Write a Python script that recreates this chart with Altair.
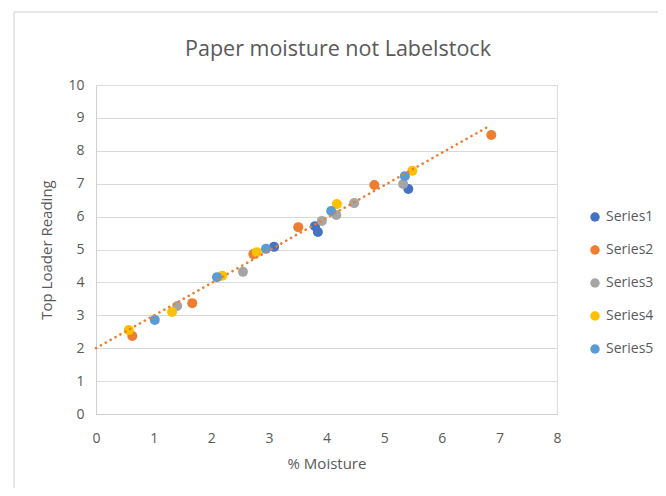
import altair as alt
import pandas as pd

series_names = ["Series1", "Series2", "Series3", "Series4", "Series5"]
series_colors = ["#4472C4", "#ED7D31", "#A5A5A5", "#FFC000", "#5B9BD5"]

s1_x = [3.09, 3.80, 3.85, 5.42]
s1_y = [5.08, 5.71, 5.53, 6.84]
s2_x = [0.63, 1.67, 2.73, 3.51, 4.83, 6.86]
s2_y = [2.37, 3.37, 4.86, 5.68, 6.96, 8.48]
s3_x = [1.41, 2.55, 3.92, 4.17, 4.48, 5.33]
s3_y = [3.28, 4.32, 5.87, 6.05, 6.41, 6.99]
s4_x = [0.57, 1.32, 2.19, 2.79, 4.18, 5.49]
s4_y = [2.55, 3.10, 4.20, 4.92, 6.38, 7.39]
s5_x = [1.02, 2.10, 2.95, 4.08, 5.36]
s5_y = [2.86, 4.16, 5.02, 6.17, 7.23]

trend_x = [0.0, 6.79]
trend_y = [2.0, 8.72]

x_ticks = [0, 1, 2, 3, 4, 5, 6, 7, 8]
y_ticks = [0, 1, 2, 3, 4, 5, 6, 7, 8, 9, 10]

chart_title = ["Paper moisture not Labelstock"]

rows = []
for name, xs, ys in zip(series_names, [s1_x, s2_x, s3_x, s4_x, s5_x], [s1_y, s2_y, s3_y, s4_y, s5_y]):
    for xv, yv in zip(xs, ys):
        rows.append({"series": name, "x": xv, "y": yv, "idx": len(rows)})
df = pd.DataFrame(rows)
trend_df = pd.DataFrame({"x": trend_x, "y": trend_y})

FONT = "Open Sans"
GREY = "#595959"

x_enc = alt.X("x:Q", scale=alt.Scale(domain=[0, 8], nice=False),
              axis=alt.Axis(values=x_ticks, format="d", title="% Moisture", grid=False, ticks=False,
                            domainColor="#D0D0D0", labelColor=GREY, labelFontSize=14,
                            labelPadding=17, labelFont=FONT, titleFont=FONT,
                            titleFontSize=15, titleFontWeight="normal", titleColor=GREY,
                            titlePadding=11, labelOverlap=False, labelFlush=False))
y_enc = alt.Y("y:Q", scale=alt.Scale(domain=[0, 10], nice=False),
              axis=alt.Axis(values=y_ticks, format="d", title="Top Loader Reading", grid=True,
                            gridColor="#D9D9D9", ticks=False, domainColor="#D0D0D0",
                            labelColor=GREY, labelFontSize=14, labelPadding=12,
                            labelFont=FONT, titleFont=FONT, titleFontSize=15,
                            titleFontWeight="normal", titleColor=GREY, titlePadding=13,
                            labelOverlap=False, labelFlush=False))

frame = alt.Chart(pd.DataFrame({"a": [0]})).mark_rect(
    fill=None, stroke="#D0D0D0", strokeWidth=1
).encode(x=alt.value(-82), x2=alt.value(620), y=alt.value(-73), y2=alt.value(480))

title = alt.Chart(pd.DataFrame({"t": chart_title})).mark_text(
    font=FONT, fontSize=21.5, color=GREY, align="center", baseline="alphabetic"
).encode(text="t:N", x=alt.value(242), y=alt.value(-29))

points = alt.Chart(df).mark_circle(size=100, opacity=1).encode(
    x=x_enc,
    y=y_enc,
    color=alt.Color("series:N", scale=alt.Scale(domain=series_names, range=series_colors),
                    legend=alt.Legend(title=None, orient="none", legendX=492, legendY=125,
                                      symbolType="circle", symbolSize=90, labelFontSize=14,
                                      labelColor=GREY, labelFont=FONT, rowPadding=19,
                                      symbolOpacity=1)),
    order=alt.Order("idx:Q"),
)

trend = alt.Chart(trend_df).mark_line(
    color="#ED7D31", strokeDash=[0.1, 5.5], strokeWidth=2.6, strokeCap="round"
).encode(x=x_enc, y=y_enc)

chart = alt.layer(frame, title, points, trend).properties(
    width=461, height=329,
    autosize=alt.AutoSizeParams(type="none"),
    padding={"left": 88, "top": 77, "right": 101, "bottom": 74},
).configure_view(stroke=None).configure(background="white")

chart.save("out.html", embed_options={"renderer": "svg", "actions": False})
